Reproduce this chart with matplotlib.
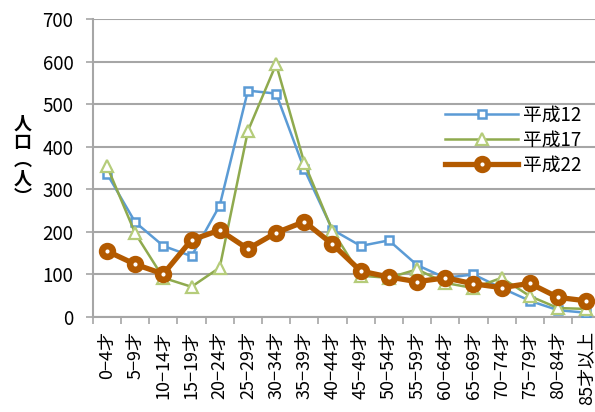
import numpy as np
import matplotlib
matplotlib.use("Agg")
import matplotlib.pyplot as plt

plt.rcParams['font.family'] = ['Noto Sans CJK JP', 'DejaVu Sans']

ages = ["0−4才", "5−9才", "10−14才", "15−19才", "20−24才", "25−29才",
        "30−34才", "35−39才", "40−44才", "45−49才", "50−54才", "55−59才",
        "60−64才", "65−69才", "70−74才", "75−79才", "80−84才", "85才以上"]
h12 = [337, 223, 167, 143, 262, 532, 525, 347, 205, 167, 180, 122,
       92, 100, 68, 38, 16, 10]
h17 = [355, 197, 92, 71, 116, 437, 594, 362, 203, 97, 92, 112,
       80, 68, 92, 49, 21, 19]
h22 = [155, 124, 101, 181, 204, 160, 198, 224, 171, 108, 94, 83,
       92, 78, 69, 79, 46, 38]
series_names = ["平成12", "平成17", "平成22"]

grid_col = "#A6A6A6"

fig = plt.figure(figsize=(5.95, 4.12), dpi=100)
ax = fig.add_axes([0.156, 0.2306, 0.853, 0.723])

x = np.arange(len(ages))
ax.plot(x, h12, color="#5B9BD5", lw=1.8, marker="s", ms=6.2,
        mfc="white", mec="#5B9BD5", mew=1.8, label=series_names[0], zorder=3)
ax.plot(x, h17, color="#8FAA4E", lw=1.8, marker="^", ms=9,
        mfc="white", mec="#B5CC7A", mew=1.6, label=series_names[1], zorder=4)
ax.plot(x, h22, color="#B35A00", lw=3.8, marker="o", ms=7.8,
        mfc="white", mec="#B35A00", mew=4.7, label=series_names[2], zorder=5)

ax.set_xlim(-0.5, len(ages) - 0.5)
ax.set_ylim(0, 700)
ax.set_yticks(np.arange(0, 701, 100))
ax.yaxis.grid(True, color=grid_col, lw=1.5)
ax.set_axisbelow(True)

ax.set_xticks(x)
ax.set_xticklabels(ages, rotation=90, va="top", ha="center", fontsize=13)
ax.set_xticks(np.arange(-0.5, len(ages), 1), minor=True)
ax.tick_params(axis="x", which="major", length=0, pad=10)
ax.tick_params(axis="x", which="minor", length=5, color=grid_col, width=1.2,
               direction="out")
ax.tick_params(axis="y", length=5, color=grid_col, width=1.2, labelsize=13.5,
               pad=9)

for side in ["top", "right"]:
    ax.spines[side].set_visible(False)
for side in ["left", "bottom"]:
    ax.spines[side].set_color(grid_col)
    ax.spines[side].set_linewidth(1.5)

# vertical axis title, characters stacked upright
fig.text(0.038, 0.61, "人\n口\n︵\n人\n︶", fontsize=13, fontweight="bold",
         ha="center", va="center", linespacing=0.95)

leg = fig.legend(loc="upper left", bbox_to_anchor=(0.748, 0.745),
                 bbox_transform=fig.transFigure, frameon=False,
                 fontsize=13.5, handlelength=3.9, handletextpad=0.25,
                 labelspacing=0.2, borderaxespad=0, borderpad=0)

fig.savefig("out.png", dpi=100)
